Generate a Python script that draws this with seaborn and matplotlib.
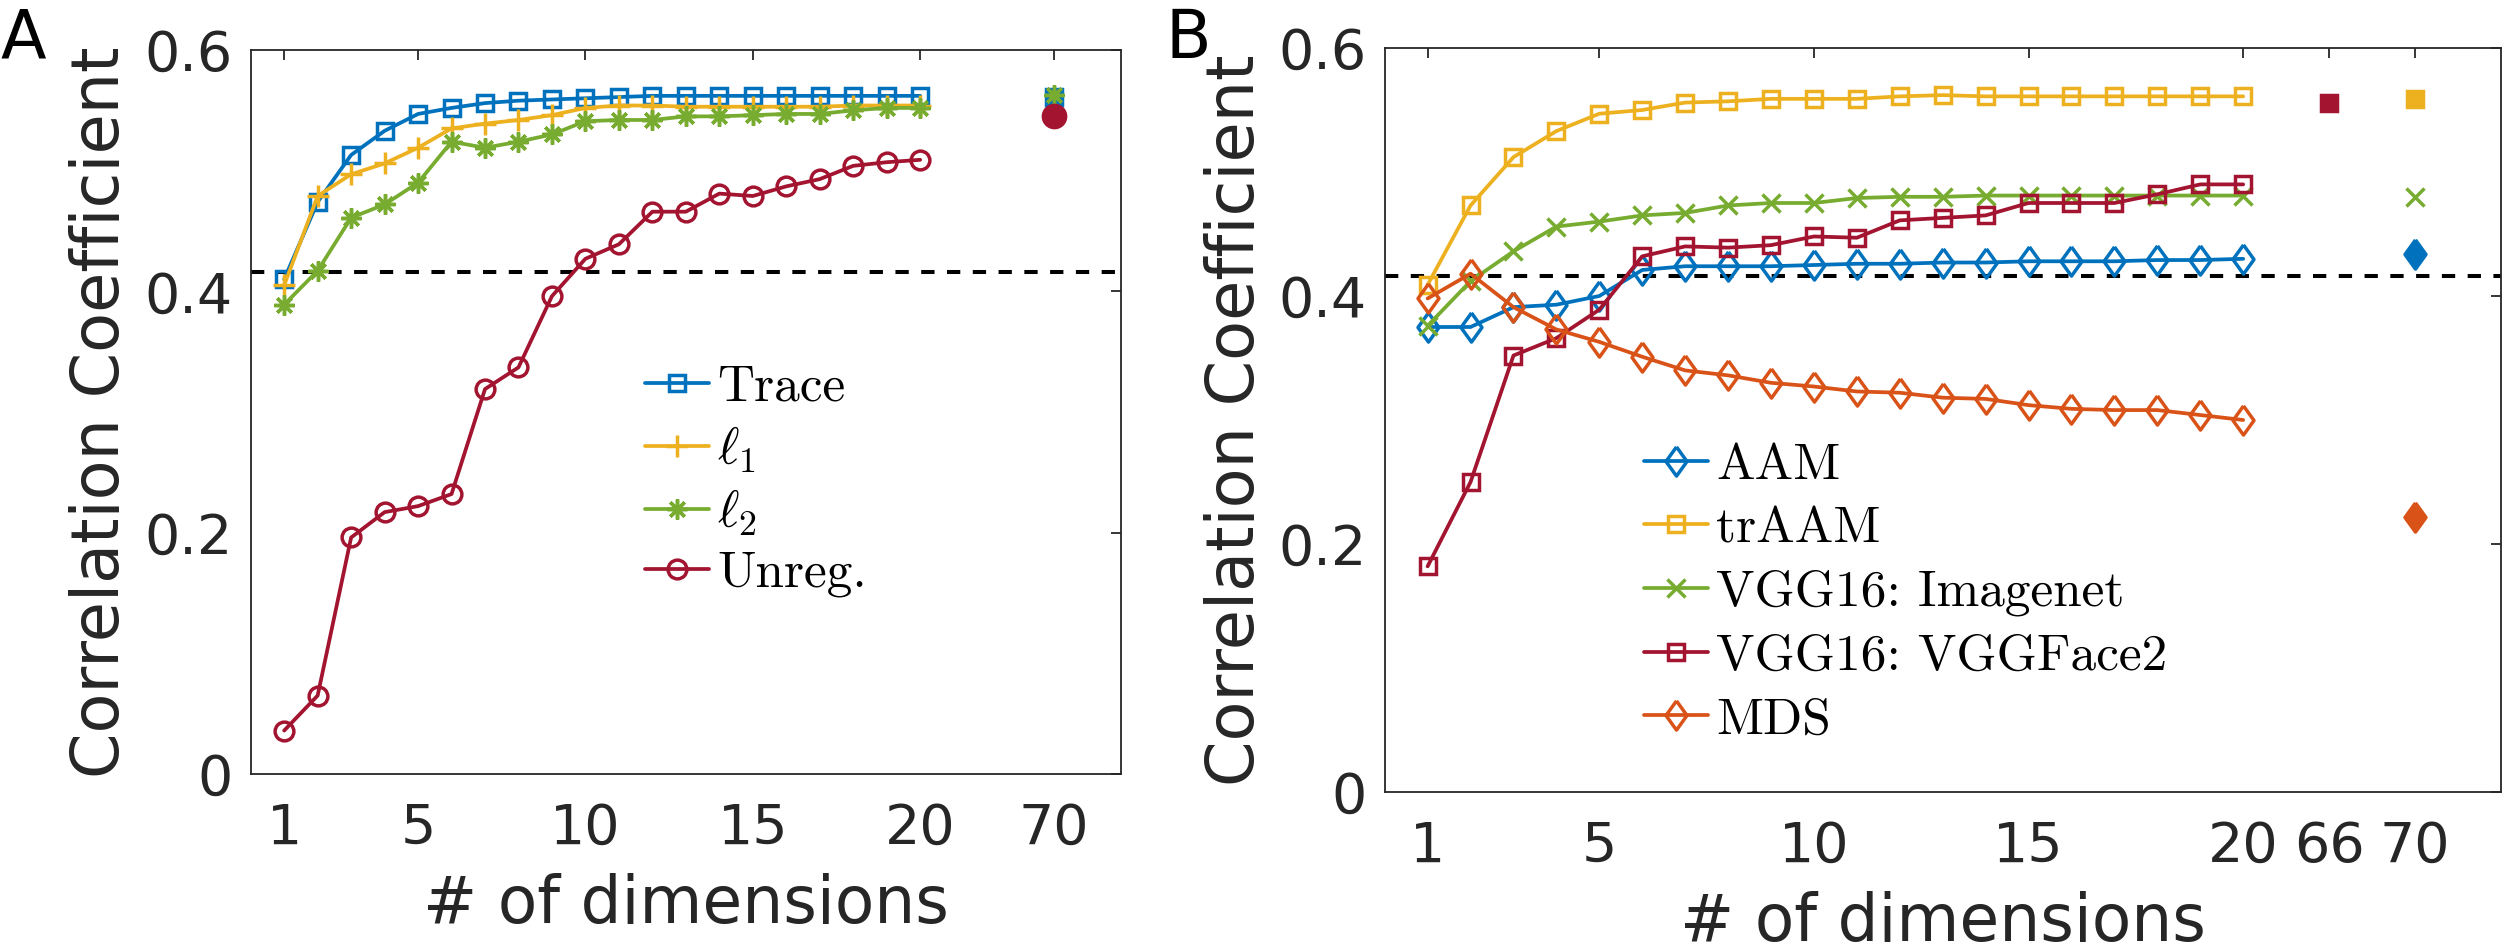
import numpy as np
import pandas as pd
import matplotlib
matplotlib.use("Agg")
import matplotlib.pyplot as plt
import seaborn as sns

# ---------------- data ----------------
dims = list(range(1, 21))
full_dim_A = 70
full_dim_B_vgg = 66
full_dim_B = 70
chance_level = 0.416

# Panel A
trace = [0.410, 0.474, 0.513, 0.533, 0.547, 0.552, 0.556, 0.558, 0.559, 0.560,
         0.561, 0.562, 0.562, 0.562, 0.562, 0.562, 0.562, 0.562, 0.562, 0.562]
l1 = [0.405, 0.479, 0.497, 0.506, 0.519, 0.535, 0.539, 0.542, 0.546, 0.552,
      0.554, 0.554, 0.553, 0.553, 0.553, 0.553, 0.553, 0.554, 0.554, 0.554]
l2 = [0.389, 0.417, 0.461, 0.472, 0.490, 0.524, 0.519, 0.524, 0.530, 0.541,
      0.542, 0.542, 0.545, 0.545, 0.546, 0.547, 0.547, 0.550, 0.552, 0.552]
unreg = [0.036, 0.065, 0.196, 0.217, 0.222, 0.232, 0.319, 0.337, 0.396, 0.427,
         0.439, 0.466, 0.466, 0.481, 0.479, 0.487, 0.493, 0.504, 0.507, 0.509]
trace_full = 0.561
l2_full = 0.563
unreg_full = 0.545

# Panel B
aam = [0.375, 0.375, 0.391, 0.393, 0.400, 0.421, 0.424, 0.424, 0.424, 0.425,
       0.426, 0.426, 0.427, 0.427, 0.428, 0.428, 0.428, 0.429, 0.429, 0.430]
traam = [0.409, 0.473, 0.512, 0.533, 0.547, 0.550, 0.556, 0.557, 0.559, 0.559,
         0.559, 0.561, 0.562, 0.561, 0.561, 0.561, 0.561, 0.561, 0.561, 0.561]
imagenet = [0.376, 0.412, 0.436, 0.456, 0.460, 0.465, 0.467, 0.473, 0.475, 0.475,
            0.479, 0.480, 0.480, 0.481, 0.481, 0.481, 0.481, 0.481, 0.481, 0.481]
vggface = [0.182, 0.250, 0.352, 0.366, 0.389, 0.432, 0.440, 0.439, 0.441, 0.448,
           0.447, 0.461, 0.463, 0.465, 0.475, 0.475, 0.475, 0.482, 0.490, 0.490]
mds = [0.398, 0.418, 0.391, 0.373, 0.363, 0.351, 0.340, 0.336, 0.330, 0.327,
       0.323, 0.322, 0.318, 0.317, 0.312, 0.309, 0.308, 0.308, 0.304, 0.300]
traam_full = 0.559
vggface_full = 0.556
imagenet_full = 0.480
aam_full = 0.434
mds_full = 0.222

xticks_A = [1, 5, 10, 15, 20, 70]
xticks_B = [1, 5, 10, 15, 20, 66, 70]
yticks = [0, 0.2, 0.4, 0.6]
ytick_labels = ["0", "0.2", "0.4", "0.6"]

labels_A = ["Trace", r"$\ell_1$", r"$\ell_2$", "Unreg."]
labels_B = ["AAM", "trAAM", "VGG16: Imagenet", "VGG16: VGGFace2", "MDS"]

# ---------------- style ----------------
sns.set_theme(style="white")
plt.rcParams["font.family"] = ["DejaVu Sans"]
plt.rcParams["mathtext.fontset"] = "cm"
DARK = "#262626"
plt.rcParams.update({
    "axes.edgecolor": DARK, "axes.linewidth": 1.3,
    "xtick.color": DARK, "ytick.color": DARK,
    "xtick.direction": "in", "ytick.direction": "in",
})

BLUE = "#0072BD"
YELLOW = "#EDB120"
GREEN = "#77AC30"
RED = "#A2142F"
ORANGE = "#D95319"

LW = 2.7
MEW = 2.5
diamond = [(0, 1), (0.72, 0), (0, -1), (-0.72, 0), (0, 1)]
asterisk = (8, 2, 0)


def pos(d):
    # axis layout: dims 1..20 linear, 66 -> 22, 70 -> 24
    return {66: 22, 70: 24}.get(d, d)


def series(ax, y, color, marker, ms, label):
    sns.lineplot(x=dims, y=y, ax=ax, color=color, lw=LW, marker=marker,
                 markersize=ms, markerfacecolor="none", markeredgecolor=color,
                 markeredgewidth=MEW, label=label, legend=False, errorbar=None)


def point(ax, d, v, color, marker, ms, filled=True):
    sns.lineplot(x=[pos(d)], y=[v], ax=ax, color=color, marker=marker,
                 markersize=ms, markerfacecolor=color if filled else "none",
                 markeredgecolor=color, markeredgewidth=MEW, legend=False,
                 errorbar=None, label="_nolegend_")


fig = plt.figure(figsize=(25.03, 9.44), dpi=100)
W, H = 2503, 944
axA = fig.add_axes([250.7 / W, 1 - 774 / H, (1121 - 250.7) / W, (774 - 50) / H])
axB = fig.add_axes([1384.7 / W, 1 - 792 / H, (2500.7 - 1384.7) / W, (792 - 48) / H])

# ---------------- panel A ----------------
series(axA, trace, BLUE, "s", 12, labels_A[0])
series(axA, l1, YELLOW, "+", 16, labels_A[1])
series(axA, l2, GREEN, asterisk, 14.5, labels_A[2])
series(axA, unreg, RED, "o", 13.5, labels_A[3])
point(axA, full_dim_A, trace_full, BLUE, "s", 12)
point(axA, full_dim_A, l2_full, GREEN, asterisk, 14.5)
point(axA, full_dim_A, unreg_full, RED, "o", 16)

# ---------------- panel B ----------------
series(axB, aam, BLUE, diamond, 21, labels_B[0])
series(axB, traam, YELLOW, "s", 12, labels_B[1])
series(axB, imagenet, GREEN, "x", 13, labels_B[2])
series(axB, vggface, RED, "s", 12, labels_B[3])
series(axB, mds, ORANGE, diamond, 21, labels_B[4])
point(axB, full_dim_B_vgg, vggface_full, RED, "s", 12)
point(axB, full_dim_B, traam_full, YELLOW, "s", 12)
point(axB, full_dim_B, imagenet_full, GREEN, "x", 13, filled=False)
point(axB, full_dim_B, aam_full, BLUE, diamond, 21)
point(axB, full_dim_B, mds_full, ORANGE, diamond, 21)

leg_font = {"family": "cmr10", "size": 37}
for ax, ticks, lab, lx, ly in [(axA, xticks_A, "A", 0.0, 1 - 7 / H),
                               (axB, xticks_B, "B", 1166 / W, 1 - 6 / H)]:
    ax.axhline(chance_level, color="black", lw=2.9, dashes=(3.3, 3.1), zorder=1)
    ax.set_xlim(0, 26)
    ax.set_ylim(0, 0.6)
    ax.set_xticks([pos(t) for t in ticks])
    ax.set_xticklabels([str(t) for t in ticks])
    ax.set_yticks(yticks)
    ax.set_yticklabels(ytick_labels)
    ax.tick_params(axis="both", which="both", direction="in", length=7, width=1.3,
                   top=True, right=True, labelsize=40, labelcolor=DARK)
    ax.tick_params(axis="x", pad=20)
    ax.tick_params(axis="y", pad=13)
    for s in ax.spines.values():
        s.set_visible(True)
        s.set_color(DARK)
        s.set_linewidth(1.3)
    ax.set_xlabel("# of dimensions", fontsize=46.5, color=DARK)
    ax.set_ylabel("Correlation Coefficient", fontsize=47, color=DARK)
    fig.text(lx, ly, lab, fontsize=48, color="black", ha="left", va="top")

axA.xaxis.set_label_coords(0.5, (774 - 873) / 724)
axA.yaxis.set_label_coords((133 - 250.7) / 870.3, 0.5)
axB.xaxis.set_label_coords(0.5, (792 - 891) / 744)
axB.yaxis.set_label_coords((1268 - 1384.7) / 1116, 0.5)

legA = axA.legend(loc="upper left", bbox_to_anchor=(645 / W, 1 - 365 / H),
                  bbox_transform=fig.transFigure, frameon=False, prop=leg_font,
                  handlelength=1.24, handletextpad=0.16, labelspacing=0.25,
                  borderpad=0, borderaxespad=0, numpoints=1)
legB = axB.legend(loc="upper left", bbox_to_anchor=(1644 / W, 1 - 443 / H),
                  bbox_transform=fig.transFigure, frameon=False, prop=leg_font,
                  handlelength=1.24, handletextpad=0.16, labelspacing=0.34,
                  borderpad=0, borderaxespad=0, numpoints=1)
for leg in (legA, legB):
    for t in leg.get_texts():
        t.set_color("black")

fig.savefig("out.png", dpi=100)
